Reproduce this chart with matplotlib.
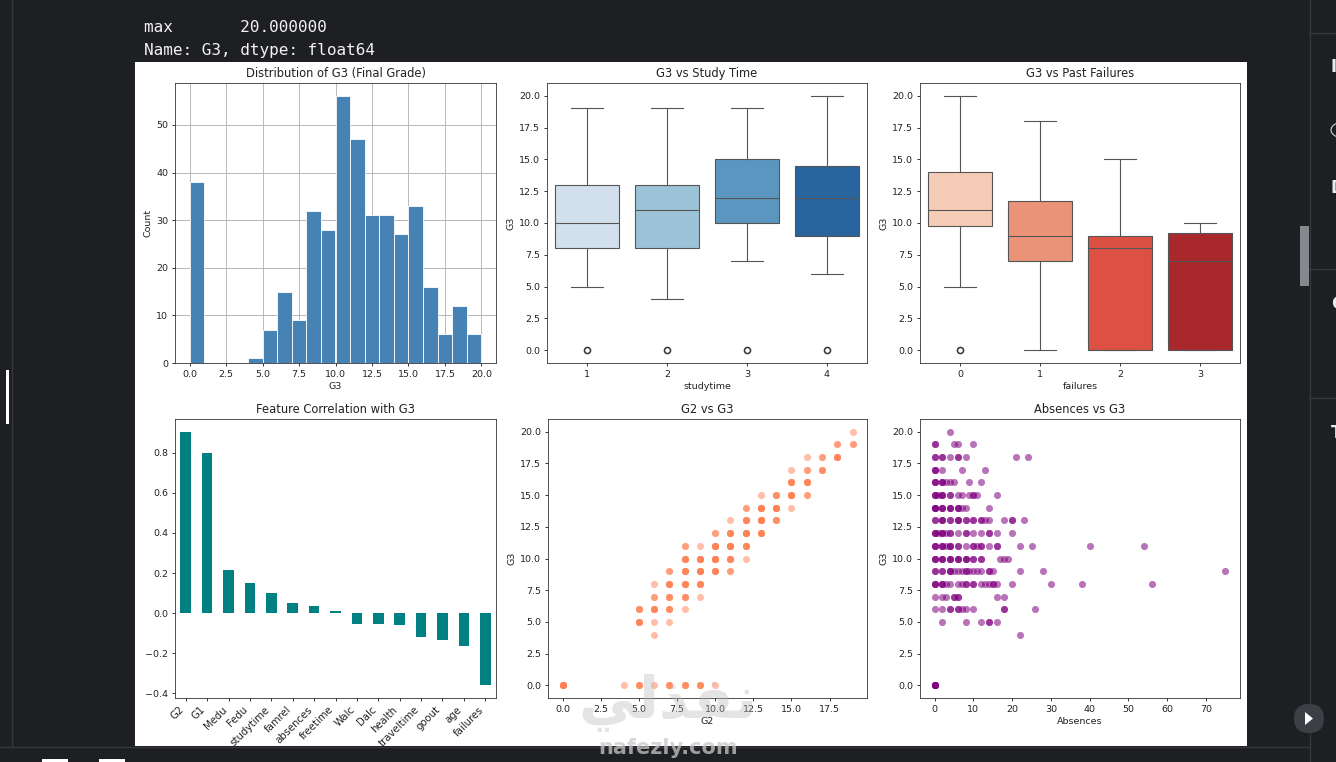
import matplotlib
matplotlib.use('Agg')
import matplotlib.pyplot as plt
from matplotlib.patches import Rectangle, Circle, Polygon, FancyBboxPatch
from matplotlib.lines import Line2D
import numpy as np

W, H = 1336, 762

# 直方图
g3_grades = [0, 4, 5, 6, 7, 8, 9, 10, 11, 12, 13, 14, 15, 16, 17, 18, 19, 20]
g3_counts = [38, 1, 7, 15, 9, 32, 28, 56, 47, 31, 31, 27, 33, 16, 6, 12, 5, 1]

# 箱线图 (q1, med, q3, whisker low, whisker high)
study_labels = ['1', '2', '3', '4']
study_q1 = [8, 8, 10, 9]
study_med = [10, 11, 12, 12]
study_q3 = [13, 13, 15, 14.5]
study_lo = [5, 4, 7, 6]
study_hi = [19, 19, 19, 20]
study_fliers = [[0], [0], [0], [0]]
study_colors = ['#d2e0ed', '#9cc2d8', '#5b96c0', '#28649d']

fail_labels = ['0', '1', '2', '3']
fail_q1 = [9.75, 7, 0, 0]
fail_med = [11, 9, 8, 7]
fail_q3 = [14, 11.75, 9, 9.25]
fail_lo = [5, 0, 0, 0]
fail_hi = [20, 18, 15, 10]
fail_fliers = [[0], [], [], []]
fail_colors = ['#f5cdb6', '#ea9378', '#dd5044', '#a8282c']

# 相关系数
corr_names = ['G2', 'G1', 'Medu', 'Fedu', 'studytime', 'famrel', 'absences', 'freetime',
              'Walc', 'Dalc', 'health', 'traveltime', 'goout', 'age', 'failures']
corr_values = [0.905, 0.80, 0.217, 0.152, 0.098, 0.051, 0.034, 0.011,
               -0.052, -0.055, -0.061, -0.117, -0.133, -0.162, -0.36]

# G2 vs G3: 每个点 (重复次数决定颜色深浅)
g2_x = [19, 18, 19, 16, 17, 18, 15, 16, 17, 15, 16, 13, 14, 15, 16,
        12, 13, 14, 15, 11, 12, 13, 14, 10, 11, 12, 13,
        8, 9, 10, 11, 12, 8, 9, 10, 11, 12, 7, 8, 9, 10, 11,
        6, 7, 8, 9, 6, 7, 8, 9, 5, 6, 7, 8, 5, 6, 7, 6,
        0, 4, 5, 6, 7, 8, 9, 10]
g2_y = [20, 19, 19, 18, 18, 18, 17, 17, 17, 16, 16, 15, 15, 15, 15,
        14, 14, 14, 14, 13, 13, 13, 13, 12, 12, 12, 12,
        11, 11, 11, 11, 11, 10, 10, 10, 10, 10, 9, 9, 9, 9, 9,
        8, 8, 8, 8, 7, 7, 7, 7, 6, 6, 6, 6, 5, 5, 5, 4,
        0, 0, 0, 0, 0, 0, 0, 0]
g2_n = [1, 2, 2, 1, 2, 4, 1, 2, 3, 4, 4, 1, 3, 5, 2,
        2, 5, 5, 1, 1, 4, 5, 3, 2, 4, 5, 4,
        2, 1, 5, 5, 4, 4, 5, 5, 4, 1, 2, 4, 5, 4, 2,
        1, 4, 4, 4, 2, 3, 3, 1, 3, 4, 3, 1, 4, 1, 1, 1,
        6, 1, 3, 1, 3, 3, 3, 1]

# 缺勤 vs G3
abs_x = [4,
         0, 0, 5, 6, 10,
         0, 0, 2, 2, 4, 6, 6, 8, 21, 24,
         0, 0, 0, 2, 7, 13,
         0, 0, 0, 2, 2, 2, 3, 4, 5, 9, 12,
         0, 0, 0, 1, 2, 2, 2, 4, 4, 6, 7, 9, 10, 10, 11, 16,
         0, 0, 0, 0, 2, 2, 2, 4, 4, 4, 6, 6, 6, 7, 8, 14,
         0, 0, 2, 2, 2, 4, 4, 6, 6, 6, 8, 8, 10, 10, 12, 12, 13, 14, 18, 20, 20, 23,
         0, 0, 0, 1, 2, 2, 2, 3, 4, 4, 6, 8, 8, 10, 12, 14, 14, 16, 20,
         0, 0, 0, 2, 2, 2, 3, 4, 4, 4, 6, 6, 8, 10, 10, 11, 12, 12, 14, 16, 16, 22, 25, 40, 54,
         0, 0, 0, 2, 2, 2, 4, 4, 4, 6, 6, 6, 8, 8, 8, 10, 10, 12, 12, 17, 18, 19,
         0, 0, 2, 2, 4, 4, 4, 5, 6, 7, 8, 8, 9, 10, 11, 12, 14, 14, 15, 22, 28, 75,
         0, 0, 0, 2, 2, 2, 3, 4, 6, 7, 8, 8, 10, 10, 12, 13, 14, 15, 15, 16, 20, 30, 38, 56,
         0, 2, 3, 5, 5, 6, 6, 16, 18,
         0, 2, 4, 4, 6, 6, 7, 8, 10, 18, 18, 26,
         2, 8, 12, 14, 14, 16,
         22,
         0, 0, 0, 0, 0, 0]
abs_y = ([20] + [19] * 5 + [18] * 10 + [17] * 6 + [16] * 11 + [15] * 16 + [14] * 16
         + [13] * 22 + [12] * 19 + [11] * 25 + [10] * 22 + [9] * 22 + [8] * 24
         + [7] * 9 + [6] * 12 + [5] * 6 + [4] + [0] * 6)


def px_axes(x0, y0, x1, y1):
    return fig.add_axes([x0 / W, 1 - y1 / H, (x1 - x0) / W, (y1 - y0) / H])


def style(ax, title, xlabel, ylabel):
    ax.set_title(title, fontsize=8.3, pad=4, color='#222222')
    ax.set_xlabel(xlabel, fontsize=6.8, labelpad=2.5, color='#222222')
    ax.set_ylabel(ylabel, fontsize=6.8, labelpad=2.5, color='#222222')
    ax.tick_params(labelsize=6.8, length=2.4, width=0.55, pad=2.4, labelcolor='#222222')
    for s in ax.spines.values():
        s.set_linewidth(0.6)
        s.set_edgecolor('#333333')


def draw_box(ax, labels, q1, med, q3, lo, hi, fliers, colors):
    stats = []
    for i in range(len(labels)):
        stats.append({'q1': q1[i], 'med': med[i], 'q3': q3[i], 'whislo': lo[i],
                      'whishi': hi[i], 'fliers': fliers[i]})
    line = {'color': '#555555', 'linewidth': 0.8}
    b = ax.bxp(stats, positions=range(len(labels)), widths=0.8, capwidths=0.4, patch_artist=True,
               boxprops={'edgecolor': '#555555', 'linewidth': 0.8}, medianprops=line,
               whiskerprops=line, capprops=line,
               flierprops={'marker': 'o', 'markersize': 4.4, 'markerfacecolor': 'white',
                           'markeredgecolor': '#333333', 'markeredgewidth': 1.1})
    for p, c in zip(b['boxes'], colors):
        p.set_facecolor(c)
    ax.set_xticks(range(len(labels)))
    ax.set_xticklabels(labels)
    ax.set_xlim(-0.5, len(labels) - 0.5)
    ax.set_ylim(-1, 21)


fig = plt.figure(figsize=(W / 100, H / 100), dpi=100, facecolor='#1e1f22')

# 笔记本界面
fig.add_artist(Rectangle((135 / W, 1 - 746 / H), 1112 / W, 684 / H, transform=fig.transFigure,
                         facecolor='white', edgecolor='none', zorder=-5))
ui_line = '#35373b'
fig.add_artist(Line2D([1309.5 / W] * 2, [0, 1], color=ui_line, lw=1, zorder=-4))
fig.add_artist(Line2D([11.5 / W] * 2, [1 - 746 / H, 1], color=ui_line, lw=1, zorder=-4))
fig.add_artist(Line2D([0, 1309 / W], [1 - 746.5 / H] * 2, color=ui_line, lw=1, zorder=-4))
for yy in [33, 269, 398]:
    fig.add_artist(Line2D([1309 / W, 1], [1 - yy / H] * 2, color=ui_line, lw=1, zorder=-4))
fig.add_artist(Rectangle((6 / W, 1 - 424 / H), 3 / W, 54 / H, transform=fig.transFigure,
                         facecolor='white', edgecolor='none'))
fig.add_artist(Rectangle((1300 / W, 1 - 286 / H), 9 / W, 60 / H, transform=fig.transFigure,
                         facecolor='#85888c', edgecolor='none'))
fig.add_artist(Rectangle((42 / W, 0), 26 / W, 3 / H, transform=fig.transFigure,
                         facecolor='white', edgecolor='none'))
fig.add_artist(Rectangle((99 / W, 0), 26 / W, 3 / H, transform=fig.transFigure,
                         facecolor='white', edgecolor='none'))
fig.add_artist(Polygon([(1305 / W, 1 - 712 / H), (1305 / W, 1 - 725 / H), (1313 / W, 1 - 718.5 / H)],
                       transform=fig.transFigure, facecolor='white', edgecolor='none', zorder=2))
play_bg = FancyBboxPatch((1294 / W, 1 - 733 / H), 30 / W, 29 / H, transform=fig.transFigure,
                         boxstyle='round,pad=0,rounding_size=0.011', mutation_aspect=W / H,
                         facecolor='#3c3f43', edgecolor='none', zorder=1)
fig.add_artist(play_bg)
for letter, yy in [('I', 67), ('D', 188), ('G', 304), ('T', 433)]:
    fig.text(1331 / W, 1 - yy / H, letter, color='#e8eaed', fontsize=12, fontweight='bold', va='center')
fig.add_artist(Circle((1346 / W, 1 - 130 / H), 15 / W, transform=fig.transFigure,
                      facecolor='none', edgecolor='#cfd1d4', lw=0.8))

fig.text(144 / W, 1 - 27.5 / H, 'max       20.000000', family='DejaVu Sans Mono', fontsize=11.5,
         color='#f2f2f2', va='center')
fig.text(144 / W, 1 - 50.5 / H, 'Name: G3, dtype: float64', family='DejaVu Sans Mono', fontsize=11.5,
         color='#f2f2f2', va='center')

# 直方图
ax1 = px_axes(175, 83, 496, 363)
ax1.hist(g3_grades, bins=20, range=(0, 20), weights=g3_counts, color='#4682b4', edgecolor='white', linewidth=0.6)
ax1.grid(True, color='#b8b8b8', lw=0.7)
ax1.set_axisbelow(True)
ax1.set_xticks(np.arange(0, 20.1, 2.5))
style(ax1, 'Distribution of G3 (Final Grade)', 'G3', 'Count')

ax2 = px_axes(547, 83, 867, 363)
draw_box(ax2, study_labels, study_q1, study_med, study_q3, study_lo, study_hi, study_fliers, study_colors)
style(ax2, 'G3 vs Study Time', 'studytime', 'G3')

ax3 = px_axes(920, 83, 1240, 363)
draw_box(ax3, fail_labels, fail_q1, fail_med, fail_q3, fail_lo, fail_hi, fail_fliers, fail_colors)
style(ax3, 'G3 vs Past Failures', 'failures', 'G3')

# 相关性
ax4 = px_axes(175, 419, 496, 698)
ax4.bar(range(len(corr_names)), corr_values, width=0.5, color='#008080')
ax4.set_xlim(-0.5, len(corr_names) - 0.5)
ax4.set_xticks(range(len(corr_names)))
style(ax4, 'Feature Correlation with G3', '', '')
ax4.set_xticklabels(corr_names, rotation=45, ha='right', fontsize=7.3)

# 散点
ax5 = px_axes(548, 419, 867, 698)
ax5.scatter(np.repeat(g2_x, g2_n), np.repeat(g2_y, g2_n), s=26, color='#ff7f50', alpha=0.5, linewidths=0)
ax5.set_xticks(np.arange(0, 17.6, 2.5))
style(ax5, 'G2 vs G3', 'G2', 'G3')

ax6 = px_axes(920, 419, 1240, 698)
ax6.scatter(abs_x, abs_y, s=26, color='purple', alpha=0.55, linewidths=0)
ax6.set_xticks(range(0, 71, 10))
style(ax6, 'Absences vs G3', 'Absences', 'G3')

# 水印
fig.text(668 / W, 1 - 703 / H, 'ﻲﻟﺬﻔﻧ', family='DejaVu Sans', fontsize=42, fontweight='bold',
         color='#b8b8b8', alpha=0.38, ha='center', va='center', zorder=10)
fig.text(668 / W, 1 - 748 / H, 'nafezly.com', family='DejaVu Sans', fontsize=15, fontweight='bold',
         color='#c8c8c8', alpha=0.75, ha='center', va='center', zorder=10)

fig.savefig('out.png', dpi=100, facecolor=fig.get_facecolor())
